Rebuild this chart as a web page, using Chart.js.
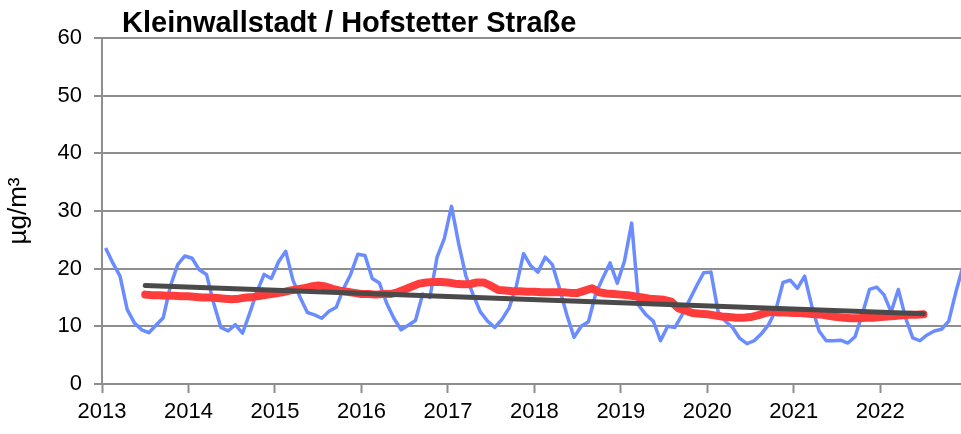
<!DOCTYPE html>
<html lang="de">
<head>
<meta charset="utf-8">
<title>Kleinwallstadt / Hofstetter Straße</title>
<script src="https://cdn.jsdelivr.net/npm/chart.js@4/dist/chart.umd.min.js"></script>
<style>
  html, body { margin: 0; padding: 0; background: #fff; }
  #wrap { position: relative; width: 961px; height: 434px; }
</style>
</head>
<body>
<div id="wrap"><canvas id="no2Chart"></canvas></div>
<script>
const chartTitle = 'Kleinwallstadt / Hofstetter Straße';
const unitLabel = 'µg/m³';
const startYear = 2013;
const yearTicks = [2013, 2014, 2015, 2016, 2017, 2018, 2019, 2020, 2021, 2022];

// Monatsmittel Jan 2013 - Dez 2022
const monthly = [
  23.6, 21.0, 18.7, 12.9, 10.6, 9.4, 8.9, 10.2, 11.5, 17.0, 20.7, 22.2,
  21.8, 19.8, 19.0, 14.0, 9.8, 9.2, 10.3, 8.8, 12.3, 16.0, 19.0, 18.3,
  21.2, 23.0, 18.0, 15.0, 12.4, 12.0, 11.4, 12.6, 13.3, 16.5, 19.0, 22.5,
  22.3, 18.3, 17.5, 14.0, 11.4, 9.4, 10.2, 11.0, 15.6, 15.0, 22.0, 25.2,
  30.8, 24.3, 18.7, 15.5, 12.5, 10.9, 9.8, 11.2, 13.2, 17.0, 22.6, 20.5,
  19.4, 22.0, 20.7, 16.5, 12.0, 8.1, 10.0, 10.8, 15.6, 18.4, 21.0, 17.5,
  21.3, 27.9, 13.6, 12.0, 10.9, 7.5, 10.0, 9.8, 12.0, 14.5, 17.0, 19.3,
  19.4, 12.5, 10.9, 9.8, 7.9, 7.0, 7.5, 8.7, 10.3, 12.8, 17.6, 18.0,
  16.6, 18.7, 13.5, 9.2, 7.5, 7.5, 7.6, 7.1, 8.2, 12.1, 16.4, 16.8,
  15.5, 12.5, 16.4, 11.5, 8.0, 7.5, 8.5, 9.2, 9.5, 10.9, 16.0, 20.5
];

// gleitendes 12-Monats-Mittel, beginnt bei Monat 6 (Jul 2013)
const movingStart = 6;
const moving = [
  15.5, 15.4, 15.4, 15.3, 15.3, 15.2, 15.2, 15.1, 15.0, 15.0, 14.9, 14.8,
  14.7, 14.8, 15.0, 15.1, 15.3, 15.5, 15.7, 15.9, 16.2, 16.4, 16.6, 16.9,
  17.1, 16.9, 16.5, 16.2, 16.0, 15.8, 15.6, 15.6, 15.5, 15.6, 15.6, 15.9,
  16.4, 16.9, 17.4, 17.6, 17.7, 17.7, 17.6, 17.4, 17.3, 17.3, 17.6, 17.6,
  17.0, 16.3, 16.2, 16.1, 16.1, 16.0, 16.0, 15.9, 15.9, 15.9, 15.9, 15.8,
  15.8, 16.2, 16.6, 15.9, 15.7, 15.6, 15.5, 15.4, 15.2, 15.0, 14.8, 14.7,
  14.6, 14.3, 13.1, 12.7, 12.3, 12.2, 12.1, 11.9, 11.7, 11.6, 11.5, 11.5,
  11.6, 11.9, 12.3, 12.5, 12.4, 12.4, 12.3, 12.3, 12.2, 12.1, 12.0, 11.8,
  11.6, 11.5, 11.4, 11.4, 11.5, 11.5, 11.6, 11.7, 11.8, 11.9, 12.0, 12.0,
  12.1
];

// linearer Trend (Anfang / Ende)
const trendMonths = [6, 114];
const trendValues = [17.1, 12.2];

const axisGrey = '#8e8e8e';
const labelFont = { family: '"Liberation Sans", Arial, sans-serif', size: 22 };

// Titel oben links ueber der Zeichenflaeche
const titlePlugin = {
  id: 'stationTitle',
  afterDraw(chart) {
    const ctx = chart.ctx;
    ctx.save();
    ctx.font = 'bold 29px "Liberation Sans", Arial, sans-serif';
    ctx.fillStyle = '#000';
    ctx.textBaseline = 'alphabetic';
    ctx.fillText(chartTitle, 122, 32);
    ctx.restore();
  }
};

new Chart(document.getElementById('no2Chart'), {
  type: 'line',
  data: {
    datasets: [
      {
        label: 'Trend',
        data: trendMonths.map((m, k) => ({ x: m, y: trendValues[k] })),
        borderColor: '#4a4a4a',
        borderWidth: 5,
        borderCapStyle: 'round',
        pointRadius: 0,
        order: 0
      },
      {
        label: '12-Monats-Mittel',
        data: moving.map((v, k) => ({ x: movingStart + k, y: v })),
        borderColor: '#ff3c3c',
        borderWidth: 8,
        borderCapStyle: 'round',
        borderJoinStyle: 'round',
        pointRadius: 0,
        order: 1
      },
      {
        label: 'Monatsmittel',
        data: monthly.map((v, i) => ({ x: i + 0.5, y: v })),
        borderColor: '#6a8cff',
        borderWidth: 3.5,
        borderJoinStyle: 'round',
        pointRadius: 0,
        order: 2
      }
    ]
  },
  options: {
    responsive: true,
    maintainAspectRatio: false,
    animation: false,
    layout: { padding: { top: 38, right: 0, bottom: 0, left: 0 } },
    plugins: {
      legend: { display: false },
      tooltip: { enabled: false },
      title: { display: false }
    },
    scales: {
      x: {
        type: 'linear',
        min: 0,
        max: 119.2,
        afterBuildTicks: scale => {
          scale.ticks = yearTicks.map(y => ({ value: (y - startYear) * 12 }));
        },
        afterFit: scale => { scale.height = 50; },
        ticks: {
          color: '#000',
          font: labelFont,
          padding: 6,
          maxRotation: 0,
          autoSkip: false,
          callback: v => String(startYear + v / 12)
        },
        grid: {
          drawOnChartArea: false,
          drawTicks: true,
          tickLength: 9,
          tickColor: axisGrey,
          tickWidth: 2
        },
        border: { display: true, color: axisGrey, width: 2 }
      },
      y: {
        min: 0,
        max: 60,
        afterFit: scale => { scale.width = 102; },
        ticks: {
          stepSize: 10,
          color: '#000',
          font: labelFont,
          padding: 12
        },
        grid: {
          color: axisGrey,
          lineWidth: 2,
          tickLength: 8,
          tickColor: axisGrey,
          tickWidth: 2
        },
        border: { display: true, color: axisGrey, width: 2 },
        title: {
          display: true,
          text: unitLabel,
          color: '#000',
          font: { family: labelFont.family, size: 26 },
          padding: { top: 3, bottom: 0 }
        }
      }
    }
  },
  plugins: [titlePlugin]
});
</script>
</body>
</html>
